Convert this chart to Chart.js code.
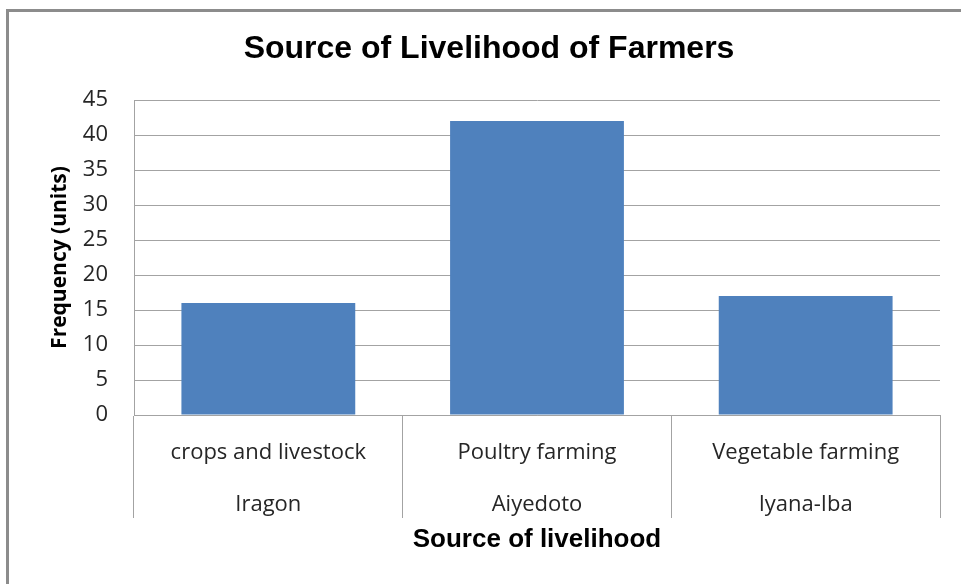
<!DOCTYPE html>
<html>
<head>
<meta charset="utf-8">
<script src="https://cdn.jsdelivr.net/npm/chart.js@4"></script>
<style>
  html, body { margin: 0; padding: 0; background: #fff; }
  #frame {
    position: absolute; left: 6px; top: 9px; width: 1000px; height: 600px;
    border-left: 3px solid #8c8c8c; border-top: 3px solid #8c8c8c;
  }
  #wrap { position: absolute; left: 0; top: 0; width: 961px; height: 584px; }
</style>
</head>
<body>
<div id="frame"></div>
<div id="wrap"><canvas id="chart" width="961" height="584"></canvas></div>
<script>
  // two-level category labels: activity / community
  const activities = ["crops and livestock", "Poultry farming", "Vegetable farming"];
  const places = ["Iragon", "Aiyedoto", "Iyana-Iba"];
  const frequency = [16, 42, 17];

  const labelFont = "'Open Sans', sans-serif";
  const headFont = "'Liberation Sans', Arial, sans-serif";
  const textColor = "#262626";
  const gridColor = "#a3a3a3";

  new Chart(document.getElementById("chart"), {
    type: "bar",
    data: {
      labels: activities.map((a, i) => [a, places[i]]),
      datasets: [
        {
          label: "Frequency",
          data: frequency,
          backgroundColor: "#4f81bd",
          borderWidth: 0,
          categoryPercentage: 1,
          barPercentage: 0.647,
        },
      ],
    },
    options: {
      responsive: false,
      animation: false,
      layout: { padding: { left: 38, right: 21, top: 0, bottom: 0 } },
      plugins: {
        legend: { display: false },
        tooltip: { enabled: false },
        title: {
          display: true,
          text: "Source of Livelihood of Farmers",
          color: "#000",
          font: { family: headFont, size: 32, weight: "bold", lineHeight: 1.2 },
          padding: { top: 30, bottom: 31.6 },
        },
      },
      scales: {
        x: {
          offset: true,
          grid: {
            offset: true,
            drawOnChartArea: false,
            drawTicks: true,
            tickLength: 103,
            color: gridColor,
          },
          border: { color: gridColor },
          ticks: {
            color: textColor,
            padding: -91,
            maxRotation: 0,
            font: { family: labelFont, size: 22, lineHeight: 52 / 22 },
          },
          title: {
            display: true,
            text: "Source of livelihood",
            color: "#000",
            font: { family: headFont, size: 26, weight: "bold", lineHeight: 1.2 },
            padding: { top: 0, bottom: 28.4 },
          },
          afterFit: (s) => { s.height = 169; },
        },
        y: {
          min: 0,
          max: 45,
          ticks: {
            stepSize: 5,
            color: textColor,
            padding: 26,
            font: { family: labelFont, size: 22 },
          },
          grid: { color: gridColor, drawTicks: false },
          border: { color: gridColor },
          title: {
            display: true,
            text: "Frequency (units)",
            color: "#000",
            font: { family: labelFont, size: 21, weight: "bold", lineHeight: 1.2 },
            padding: { top: 9.4, bottom: 0 },
          },
          afterFit: (s) => { s.width = 96; },
        },
      },
    },
  });
</script>
</body>
</html>
